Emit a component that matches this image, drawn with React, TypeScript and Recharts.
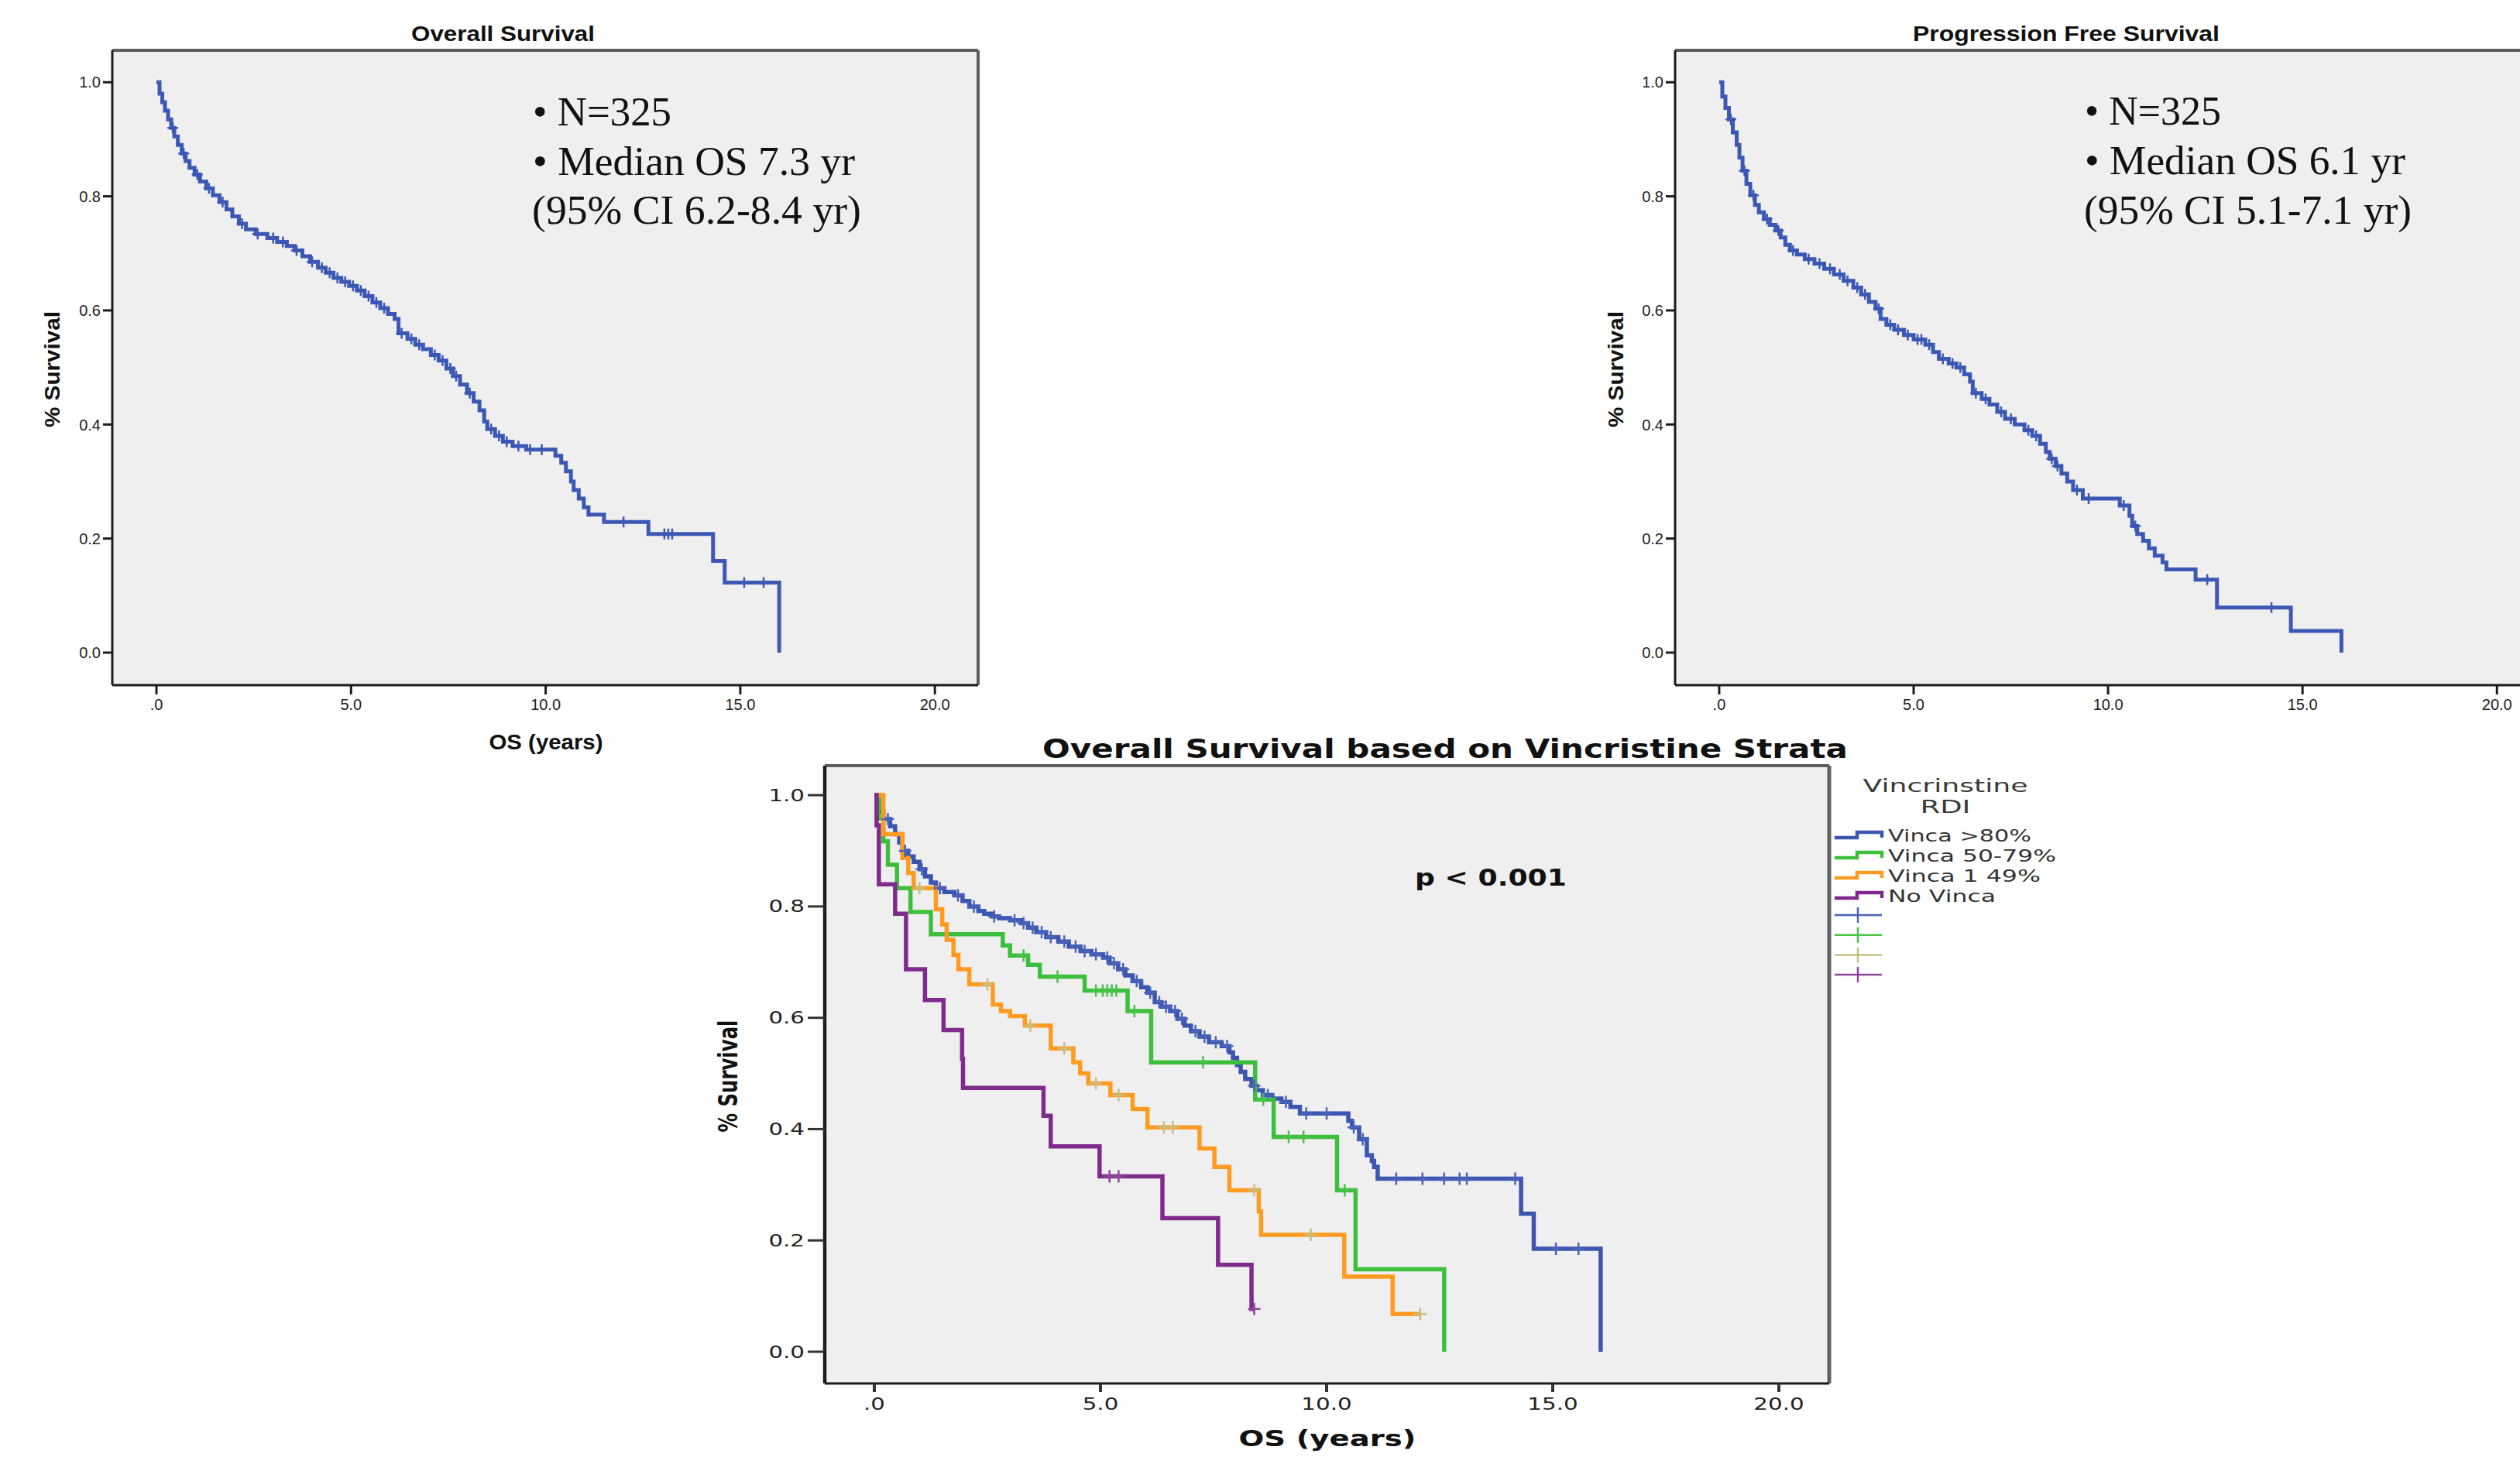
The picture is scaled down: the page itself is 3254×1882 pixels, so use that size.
import React from 'react';
import { LineChart, Line, XAxis, YAxis, CartesianGrid, ReferenceLine, Legend } from 'recharts';

// shared axis ticks
const xTicks = [0, 5, 10, 15, 20];
const xTickLabels = ['.0', '5.0', '10.0', '15.0', '20.0'];
const yTicks = [0, 0.2, 0.4, 0.6, 0.8, 1.0];
const yTickLabels = ['0.0', '0.2', '0.4', '0.6', '0.8', '1.0'];

// overall survival (all patients): event times / survival after event, censor times
const osYears = [0, 0.08, 0.15, 0.22, 0.3, 0.38, 0.46, 0.55, 0.65, 0.75, 0.85, 0.98, 1.12, 1.28, 1.45, 1.62, 1.8, 1.95, 2.12, 2.3, 2.55, 2.85, 3.1, 3.35, 3.55, 3.75, 3.95, 4.15, 4.35, 4.55, 4.75, 4.95, 5.15, 5.35, 5.55, 5.75, 5.95, 6.12, 6.22, 6.45, 6.65, 6.85, 7.05, 7.25, 7.45, 7.62, 7.8, 7.98, 8.15, 8.3, 8.42, 8.5, 8.7, 8.9, 9.15, 9.5, 10.25, 10.4, 10.52, 10.65, 10.72, 10.85, 10.98, 11.1, 11.5, 12.64, 14.3, 14.6, 16.0];
const osSurv = [1.0, 0.98, 0.965, 0.95, 0.935, 0.92, 0.905, 0.89, 0.875, 0.862, 0.85, 0.838, 0.826, 0.814, 0.802, 0.79, 0.777, 0.765, 0.752, 0.742, 0.734, 0.727, 0.72, 0.713, 0.705, 0.695, 0.685, 0.675, 0.666, 0.657, 0.65, 0.643, 0.635, 0.625, 0.614, 0.604, 0.594, 0.585, 0.56, 0.55, 0.54, 0.532, 0.522, 0.512, 0.498, 0.485, 0.47, 0.455, 0.44, 0.425, 0.405, 0.392, 0.38, 0.37, 0.362, 0.356, 0.345, 0.333, 0.318, 0.3, 0.285, 0.27, 0.255, 0.242, 0.229, 0.208, 0.161, 0.123, 0];
const osCensored = [0.42, 0.7, 1.05, 1.35, 1.7, 2.2, 2.6, 3.0, 3.25, 3.6, 4.0, 4.25, 4.45, 4.65, 4.85, 5.05, 5.25, 5.45, 5.65, 5.85, 6.3, 6.55, 6.75, 7.15, 7.35, 7.55, 7.7, 8.05, 8.6, 8.8, 9.0, 9.3, 9.6, 9.9, 12.0, 13.05, 13.15, 13.25, 15.1, 15.6];

// progression free survival
const pfsYears = [0, 0.08, 0.16, 0.25, 0.35, 0.45, 0.52, 0.6, 0.7, 0.8, 0.92, 1.02, 1.15, 1.3, 1.45, 1.58, 1.7, 1.82, 2.0, 2.2, 2.45, 2.7, 2.95, 3.2, 3.45, 3.65, 3.85, 4.02, 4.15, 4.3, 4.5, 4.75, 5.0, 5.3, 5.5, 5.65, 5.9, 6.1, 6.3, 6.45, 6.52, 6.75, 6.95, 7.15, 7.35, 7.6, 7.85, 8.05, 8.25, 8.4, 8.5, 8.65, 8.8, 8.95, 9.1, 9.35, 10.3, 10.55, 10.62, 10.75, 10.9, 11.05, 11.2, 11.4, 11.5, 12.25, 12.8, 14.7, 16.0];
const pfsSurv = [1.0, 0.975, 0.955, 0.935, 0.912, 0.89, 0.868, 0.845, 0.822, 0.802, 0.785, 0.772, 0.76, 0.75, 0.74, 0.728, 0.715, 0.705, 0.698, 0.69, 0.682, 0.673, 0.663, 0.652, 0.64, 0.628, 0.615, 0.603, 0.585, 0.575, 0.566, 0.557, 0.549, 0.54, 0.527, 0.515, 0.507, 0.5, 0.488, 0.475, 0.455, 0.445, 0.435, 0.422, 0.41, 0.4, 0.39, 0.38, 0.366, 0.352, 0.34, 0.327, 0.314, 0.3, 0.285, 0.27, 0.258, 0.24, 0.222, 0.208, 0.196, 0.183, 0.17, 0.158, 0.146, 0.128, 0.079, 0.038, 0];
const pfsCensored = [0.3, 0.65, 0.88, 1.23, 1.52, 1.9, 2.3, 2.58, 2.85, 3.1, 3.3, 3.55, 3.75, 4.1, 4.4, 4.6, 4.85, 5.1, 5.2, 5.4, 5.75, 6.0, 6.2, 6.6, 6.85, 7.25, 7.5, 7.95, 8.15, 8.55, 8.7, 9.2, 9.5, 10.4, 10.7, 12.55, 14.2];

// vincristine strata
const strataNames = ['Vinca >80%', 'Vinca 50-79%', 'Vinca 1 49%', 'No Vinca'];
const strataColors = ['#3b55b1', '#3dbf3d', '#ff9b21', '#7f2b8c'];
const censorColors = ['#4a63b8', '#45c445', '#c6bf80', '#90449d'];

const highYears = [0, 0.1, 0.2, 0.35, 0.46, 0.55, 0.62, 0.75, 0.87, 1.0, 1.12, 1.25, 1.36, 1.55, 1.77, 1.95, 2.1, 2.3, 2.43, 2.6, 2.76, 3.0, 3.25, 3.4, 3.58, 3.8, 4.07, 4.3, 4.56, 4.8, 5.06, 5.2, 5.39, 5.55, 5.71, 5.9, 6.04, 6.2, 6.35, 6.54, 6.7, 6.86, 7.0, 7.19, 7.4, 7.68, 7.85, 7.93, 8.02, 8.1, 8.2, 8.34, 8.45, 8.59, 8.8, 9.0, 9.2, 9.41, 10.48, 10.56, 10.72, 10.89, 11.0, 11.05, 11.13, 14.3, 14.58, 16.06];
const highSurv = [1.0, 0.97, 0.957, 0.944, 0.93, 0.915, 0.9, 0.89, 0.88, 0.867, 0.854, 0.843, 0.833, 0.826, 0.82, 0.81, 0.8, 0.792, 0.787, 0.782, 0.779, 0.775, 0.77, 0.762, 0.754, 0.745, 0.737, 0.728, 0.72, 0.714, 0.708, 0.698, 0.687, 0.676, 0.666, 0.655, 0.645, 0.628, 0.62, 0.612, 0.598, 0.586, 0.576, 0.566, 0.556, 0.549, 0.538, 0.528, 0.515, 0.503, 0.49, 0.478, 0.47, 0.461, 0.455, 0.449, 0.44, 0.428, 0.415, 0.403, 0.382, 0.353, 0.343, 0.332, 0.311, 0.248, 0.185, 0];
const highCensored = [0.3, 0.68, 1.05, 1.45, 1.85, 2.2, 2.65, 3.1, 3.3, 3.5, 3.7, 3.9, 4.2, 4.45, 4.65, 4.9, 5.15, 5.3, 5.5, 5.8, 6.1, 6.3, 6.45, 6.65, 6.8, 7.1, 7.3, 7.55, 7.8, 8.4, 8.7, 9.1, 9.55, 10.0, 10.6, 10.8, 11.54, 12.12, 12.6, 12.94, 13.1, 14.17, 15.07, 15.57];

const midYears = [0, 0.1, 0.2, 0.3, 0.5, 0.8, 1.25, 2.84, 3.0, 3.4, 3.66, 4.65, 5.6, 6.12, 8.42, 8.83, 10.23, 10.64, 12.6];
const midSurv = [1.0, 0.958, 0.917, 0.875, 0.833, 0.79, 0.75, 0.73, 0.712, 0.695, 0.674, 0.649, 0.612, 0.52, 0.453, 0.386, 0.29, 0.148, 0];
const midCensored = [3.3, 4.05, 4.9, 5.05, 5.15, 5.25, 5.35, 5.75, 7.27, 8.6, 9.16, 9.49, 10.4];

const lowYears = [0, 0.2, 0.62, 0.75, 0.87, 1.36, 1.5, 1.6, 1.75, 1.86, 2.1, 2.62, 2.8, 3.0, 3.33, 3.9, 4.4, 4.55, 4.73, 5.22, 5.71, 6.04, 7.19, 7.52, 7.85, 8.5, 8.55, 10.39, 11.46];
const lowSurv = [1.0, 0.93, 0.887, 0.86, 0.833, 0.795, 0.768, 0.74, 0.713, 0.687, 0.66, 0.624, 0.612, 0.603, 0.586, 0.545, 0.52, 0.5, 0.482, 0.461, 0.436, 0.403, 0.365, 0.332, 0.29, 0.252, 0.21, 0.135, 0.068];
const lowCensored = [1.0, 2.5, 3.45, 4.2, 4.9, 5.4, 6.4, 6.6, 8.4, 9.65, 12.07];

const noneYears = [0, 0.05, 0.1, 0.46, 0.7, 1.12, 1.53, 1.94, 1.96, 3.74, 3.9, 4.98, 6.37, 7.6, 8.34];
const noneSurv = [1.0, 0.946, 0.84, 0.787, 0.687, 0.632, 0.578, 0.526, 0.474, 0.424, 0.369, 0.315, 0.24, 0.156, 0.077];
const noneCensored = [5.2, 5.4, 8.4];

// styling
const sansTop = '"Liberation Sans", Arial, sans-serif';
const sansWide = '"DejaVu Sans", Verdana, sans-serif';
const serif = '"Liberation Serif", "Times New Roman", serif';
const plotFill = '#efefef';
const axisColor = '#1c1c1c';
const edgeColor = '#5e5e5e';
const kmBlue = '#3c58b4';

const topX: [number, number] = [-1.134, 21.11];
const topY: [number, number] = [-0.057, 1.056];
const botX: [number, number] = [-1.096, 21.113];
const botY: [number, number] = [-0.057, 1.053];

type Pt = { t: number; s: number; c: boolean };

// merge events and censor marks; a censor mark sits on the current step
function buildCurve(years: number[], surv: number[], censored: number[]): Pt[] {
  const pts: Pt[] = years.map((t, i) => ({ t, s: surv[i], c: false }));
  censored.forEach((t) => {
    let s = surv[0];
    years.forEach((y, i) => {
      if (y <= t) s = surv[i];
    });
    pts.push({ t, s, c: true });
  });
  return pts.sort((a, b) => a.t - b.t || Number(a.c) - Number(b.c));
}

const osData = buildCurve(osYears, osSurv, osCensored);
const pfsData = buildCurve(pfsYears, pfsSurv, pfsCensored);
const strataData = [
  buildCurve(highYears, highSurv, highCensored),
  buildCurve(midYears, midSurv, midCensored),
  buildCurve(lowYears, lowSurv, lowCensored),
  buildCurve(noneYears, noneSurv, noneCensored),
];

const censorDot = (color: string, arm: number) => (p: any) => {
  if (!p.payload || !p.payload.c) return <g key={`n${p.index}`} />;
  return (
    <path
      key={`c${p.index}`}
      d={`M${p.cx - arm},${p.cy}H${p.cx + arm}M${p.cx},${p.cy - arm}V${p.cy + arm}`}
      stroke={color}
      strokeWidth={2.5}
      fill="none"
    />
  );
};

const labelFor = (vals: number[], labels: string[], v: number) => {
  const i = vals.findIndex((x) => Math.abs(x - v) < 1e-6);
  return i >= 0 ? labels[i] : '';
};
const wideLen = (s: string) => s.split('').reduce((w, ch) => w + (ch === '.' ? 9 : 18.8), 0);

const smallXTick = (p: any) => (
  <text x={p.x} y={p.y} dy="0.71em" textAnchor="middle" fontSize={20} fontFamily={sansTop} fill="#222">
    {labelFor(xTicks, xTickLabels, p.payload.value)}
  </text>
);
const smallYTick = (p: any) => (
  <text x={p.x} y={p.y} dy="0.36em" textAnchor="end" fontSize={20} fontFamily={sansTop} fill="#222">
    {labelFor(yTicks, yTickLabels, p.payload.value)}
  </text>
);
const wideXTick = (p: any) => {
  const s = labelFor(xTicks, xTickLabels, p.payload.value);
  return (
    <text x={p.x} y={p.y} dy="0.73em" textAnchor="middle" fontSize={21} fontFamily={sansWide} fill="#222" textLength={wideLen(s)} lengthAdjust="spacingAndGlyphs">
      {s}
    </text>
  );
};
const wideYTick = (p: any) => {
  const s = labelFor(yTicks, yTickLabels, p.payload.value);
  return (
    <text x={p.x} y={p.y} dy="0.36em" textAnchor="end" fontSize={21} fontFamily={sansWide} fill="#222" textLength={wideLen(s)} lengthAdjust="spacingAndGlyphs">
      {s}
    </text>
  );
};

function SurvivalPanel({ left, marginLeft, marginRight, width, data }: any) {
  return (
    <div style={{ position: 'absolute', left, top: 0 }}>
      <LineChart width={width} height={980} margin={{ top: 65, right: marginRight, bottom: 55, left: marginLeft }}>
        <CartesianGrid fill={plotFill} horizontal={false} vertical={false} />
        <XAxis
          type="number"
          dataKey="t"
          domain={topX}
          ticks={xTicks}
          interval={0}
          allowDataOverflow
          height={40}
          tickSize={12}
          tickMargin={6}
          axisLine={{ stroke: axisColor, strokeWidth: 3 }}
          tickLine={{ stroke: axisColor, strokeWidth: 3 }}
          tick={smallXTick}
        />
        <YAxis
          type="number"
          domain={topY}
          ticks={yTicks}
          interval={0}
          allowDataOverflow
          width={60}
          tickSize={12}
          tickMargin={3}
          axisLine={{ stroke: axisColor, strokeWidth: 3 }}
          tickLine={{ stroke: axisColor, strokeWidth: 3 }}
          tick={smallYTick}
        />
        <ReferenceLine y={topY[1]} stroke={edgeColor} strokeWidth={4} ifOverflow="visible" />
        <ReferenceLine x={topX[1]} stroke={edgeColor} strokeWidth={4} ifOverflow="visible" />
        <Line
          data={data}
          dataKey="s"
          type="stepAfter"
          stroke={kmBlue}
          strokeWidth={5}
          dot={censorDot(kmBlue, 7)}
          activeDot={false}
          isAnimationActive={false}
        />
      </LineChart>
    </div>
  );
}

const legendTextLen = [185, 217, 197, 139];

const StrataLegend = () => (
  <svg width={380} height={300} style={{ display: 'block' }}>
    <text x={182} y={33} textAnchor="middle" fontSize={23} fontFamily={sansWide} fill="#3a3a3a" textLength={213} lengthAdjust="spacingAndGlyphs">
      Vincrinstine
    </text>
    <text x={182} y={60} textAnchor="middle" fontSize={23} fontFamily={sansWide} fill="#3a3a3a" textLength={65} lengthAdjust="spacingAndGlyphs">
      RDI
    </text>
    {strataNames.map((name, i) => {
      const base = 97 + i * 26;
      return (
        <g key={name}>
          <path d={`M39,${base - 5}H68V${base - 12}H100V${base - 5}`} stroke={strataColors[i]} strokeWidth={4.5} fill="none" />
          <text x={108} y={base} fontSize={21} fontFamily={sansWide} fill="#333" textLength={legendTextLen[i]} lengthAdjust="spacingAndGlyphs">
            {name}
          </text>
        </g>
      );
    })}
    {censorColors.map((c, i) => {
      const cy = 192 + i * 25.7;
      return <path key={c} d={`M39,${cy}H100M69,${cy - 10}V${cy + 10}`} stroke={c} strokeWidth={2.5} fill="none" />;
    })}
  </svg>
);

function StrataPanel() {
  return (
    <div style={{ position: 'absolute', left: 900, top: 940 }}>
      <LineChart width={1800} height={942} margin={{ top: 49, right: 338, bottom: 45, left: 85 }}>
        <CartesianGrid fill={plotFill} horizontal={false} vertical={false} />
        <XAxis
          type="number"
          dataKey="t"
          domain={botX}
          ticks={xTicks}
          interval={0}
          allowDataOverflow
          height={50}
          tickSize={11}
          tickMargin={8}
          axisLine={{ stroke: axisColor, strokeWidth: 3 }}
          tickLine={{ stroke: '#333', strokeWidth: 4 }}
          tick={wideXTick}
        />
        <YAxis
          type="number"
          domain={botY}
          ticks={yTicks}
          interval={0}
          allowDataOverflow
          width={80}
          tickSize={22}
          tickMargin={4}
          axisLine={{ stroke: axisColor, strokeWidth: 4.5 }}
          tickLine={{ stroke: '#333', strokeWidth: 3 }}
          tick={wideYTick}
        />
        <ReferenceLine y={botY[1]} stroke={edgeColor} strokeWidth={4} ifOverflow="visible" />
        <ReferenceLine x={botX[1]} stroke={edgeColor} strokeWidth={5} ifOverflow="visible" />
        {strataData.map((d, i) => (
          <Line
            key={strataNames[i]}
            name={strataNames[i]}
            data={d}
            dataKey="s"
            type="stepAfter"
            stroke={strataColors[i]}
            strokeWidth={5.5}
            dot={censorDot(censorColors[i], 8)}
            activeDot={false}
            isAnimationActive={false}
          />
        ))}
        <Legend
          layout="horizontal"
          align="center"
          verticalAlign="middle"
          content={() => <StrataLegend />}
          wrapperStyle={{ left: 1430, top: 50, width: 380, height: 300 }}
        />
      </LineChart>
    </div>
  );
}

const Txt = ({ x, y, len, size, family, weight = 'normal', anchor = 'start', children }: any) => (
  <text x={x} y={y} fontSize={size} fontFamily={family} fontWeight={weight} textAnchor={anchor} fill="#111" textLength={len} lengthAdjust="spacingAndGlyphs">
    {children}
  </text>
);
const VTxt = ({ x, y, len, size, family, children }: any) => (
  <text transform={`translate(${x},${y}) rotate(-90)`} dy="0.36em" fontSize={size} fontFamily={family} fontWeight="bold" textAnchor="middle" fill="#111" textLength={len} lengthAdjust="spacingAndGlyphs">
    {children}
  </text>
);

function TextLayer() {
  return (
    <svg width={3254} height={1882} style={{ position: 'absolute', left: 0, top: 0, pointerEvents: 'none' }}>
      <Txt x={531} y={53} len={237} size={27} family={sansTop} weight="bold">Overall Survival</Txt>
      <Txt x={2470} y={53} len={396} size={27} family={sansTop} weight="bold">Progression Free Survival</Txt>
      <VTxt x={67} y={477} len={150} size={28} family={sansTop}>% Survival</VTxt>
      <VTxt x={2086} y={477} len={150} size={28} family={sansTop}>% Survival</VTxt>
      <Txt x={705} y={968} len={147} size={28} family={sansTop} weight="bold" anchor="middle">OS (years)</Txt>

      <Txt x={688} y={162} len={179} size={52} family={serif}>• N=325</Txt>
      <Txt x={688} y={226} len={416} size={52} family={serif}>• Median OS 7.3 yr</Txt>
      <Txt x={687} y={289} len={425} size={52} family={serif}>(95% CI 6.2-8.4 yr)</Txt>

      <Txt x={2692} y={161} len={176} size={52} family={serif}>• N=325</Txt>
      <Txt x={2692} y={225} len={414} size={52} family={serif}>• Median OS 6.1 yr</Txt>
      <Txt x={2691} y={289} len={423} size={52} family={serif}>(95% CI 5.1-7.1 yr)</Txt>

      <Txt x={1346} y={979} len={1040} size={33} family={sansWide} weight="bold">Overall Survival based on Vincristine Strata</Txt>
      <Txt x={1827} y={1144} len={196} size={31} family={sansWide} weight="bold">p &lt; 0.001</Txt>
      <VTxt x={940} y={1390} len={145} size={34} family={sansWide}>% Survival</VTxt>
      <Txt x={1714} y={1868} len={229} size={29} family={sansWide} weight="bold" anchor="middle">OS (years)</Txt>
    </svg>
  );
}

export default function App() {
  return (
    <div style={{ position: 'fixed', left: 0, top: 0, width: 3254, height: 1882, overflow: 'hidden', background: '#fff' }}>
      <SurvivalPanel left={0} width={1300} marginLeft={85} marginRight={37} data={osData} />
      <SurvivalPanel left={2000} width={1300} marginLeft={103} marginRight={20} data={pfsData} />
      <StrataPanel />
      <TextLayer />
    </div>
  );
}
